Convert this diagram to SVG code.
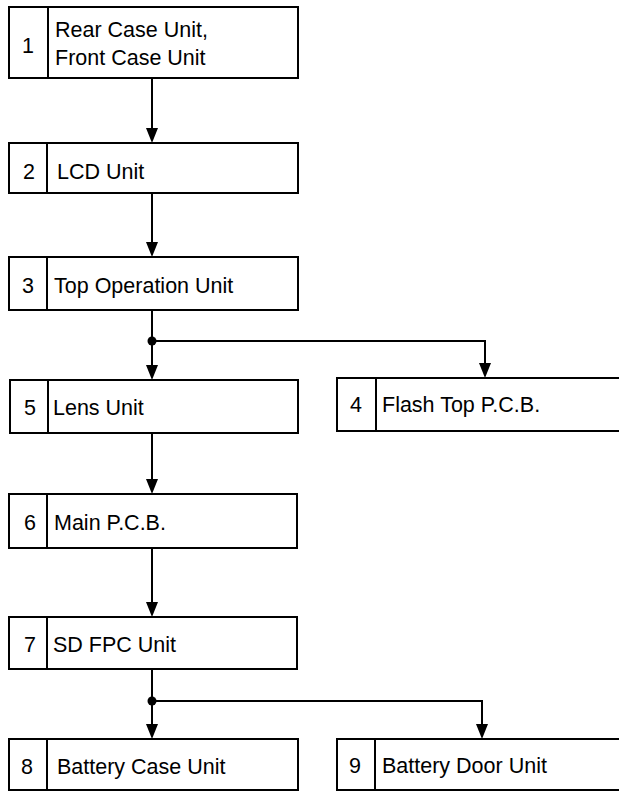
<svg xmlns="http://www.w3.org/2000/svg" width="619" height="792" viewBox="0 0 619 792">
<defs>
<style>
.box{fill:#fff;stroke:#000;stroke-width:2}
.div{stroke:#000;stroke-width:2}
.t{font-family:"Liberation Sans",Arial,sans-serif;font-size:21.5px;fill:#000}
.n{font-family:"Liberation Sans",Arial,sans-serif;font-size:21.5px;fill:#000;text-anchor:middle}
.c{fill:none;stroke:#000;stroke-width:2}
.ah{fill:#000}
</style>
</defs>
<rect width="619" height="792" fill="#fff"/>
<g id="connectors">
<path class="c" d="M152,78 V128"/>
<path class="ah" d="M146,128 L158,128 L152,143 Z"/>
<path class="c" d="M152,193 V242"/>
<path class="ah" d="M146,242 L158,242 L152,257 Z"/>
<path class="c" d="M152,310 V365 M152,341 H485 V363"/>
<path class="ah" d="M146,365 L158,365 L152,380 Z"/>
<path class="ah" d="M479,363 L491,363 L485,378 Z"/>
<circle cx="152" cy="341" r="4.5"/>
<path class="c" d="M152,433 V479"/>
<path class="ah" d="M146,479 L158,479 L152,494 Z"/>
<path class="c" d="M152,548 V602"/>
<path class="ah" d="M146,602 L158,602 L152,617 Z"/>
<path class="c" d="M152,669 V724 M152,701 H482 V724"/>
<path class="ah" d="M146,724 L158,724 L152,739 Z"/>
<path class="ah" d="M476,724 L488,724 L482,739 Z"/>
<circle cx="152" cy="701" r="4.5"/>
</g>
<g id="n1"><rect class="box" x="9" y="7" width="289" height="71"/><line class="div" x1="48" y1="7" x2="48" y2="78"/><text class="n" x="28" y="53">1</text><text class="t" x="55" y="37">Rear Case Unit,</text><text class="t" x="55" y="65">Front Case Unit</text></g>
<g id="n2"><rect class="box" x="9" y="143" width="289" height="50"/><line class="div" x1="47" y1="143" x2="47" y2="193"/><text class="n" x="29" y="179">2</text><text class="t" x="57" y="179">LCD Unit</text></g>
<g id="n3"><rect class="box" x="9" y="257" width="289" height="53"/><line class="div" x1="47" y1="257" x2="47" y2="310"/><text class="n" x="28" y="293">3</text><text class="t" x="54" y="293">Top Operation Unit</text></g>
<g id="n5"><rect class="box" x="10" y="380" width="288" height="53"/><line class="div" x1="48" y1="380" x2="48" y2="433"/><text class="n" x="30" y="415">5</text><text class="t" x="53" y="415">Lens Unit</text></g>
<g id="n4"><rect class="box" x="337" y="378" width="300" height="53"/><line class="div" x1="376" y1="378" x2="376" y2="431"/><text class="n" x="356" y="412">4</text><text class="t" x="382" y="412">Flash Top P.C.B.</text></g>
<g id="n6"><rect class="box" x="9" y="494" width="288" height="54"/><line class="div" x1="47" y1="494" x2="47" y2="548"/><text class="n" x="30" y="530">6</text><text class="t" x="54" y="530">Main P.C.B.</text></g>
<g id="n7"><rect class="box" x="9" y="617" width="288" height="52"/><line class="div" x1="47" y1="617" x2="47" y2="669"/><text class="n" x="30" y="652">7</text><text class="t" x="53" y="652">SD FPC Unit</text></g>
<g id="n8"><rect class="box" x="9" y="739" width="289" height="51"/><line class="div" x1="47" y1="739" x2="47" y2="790"/><text class="n" x="27" y="774">8</text><text class="t" x="57" y="774">Battery Case Unit</text></g>
<g id="n9"><rect class="box" x="337" y="739" width="300" height="51"/><line class="div" x1="375" y1="739" x2="375" y2="790"/><text class="n" x="355" y="773">9</text><text class="t" x="382" y="773">Battery Door Unit</text></g>
</svg>
